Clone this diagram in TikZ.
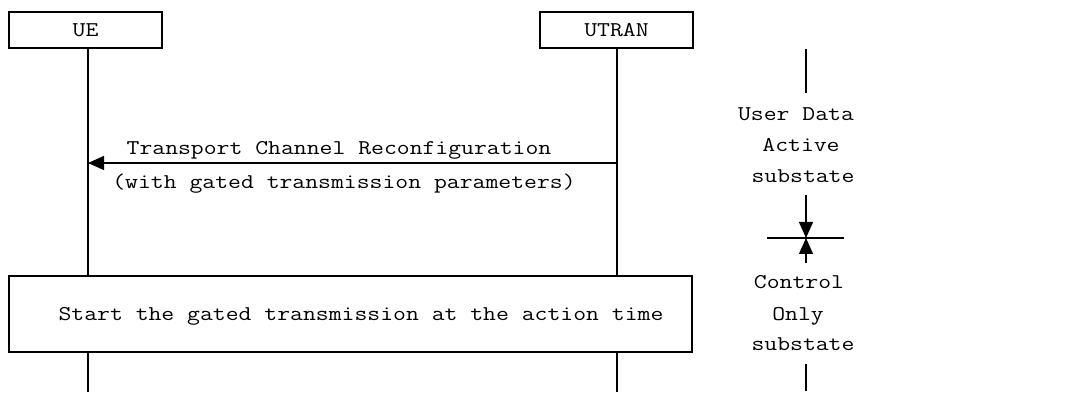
\documentclass[tikz,border=0pt]{standalone}
\usepackage{fontspec}
\setmonofont{Latin Modern Mono}[FakeStretch=1.19]
\usetikzlibrary{arrows.meta}
\begin{document}
\begin{tikzpicture}[x=1pt,y=-1pt,
  ln/.style={line width=1.3pt},
  lbl/.style={font=\ttfamily\fontsize{21}{31}\selectfont, inner sep=0pt, anchor=base},
  entity/.style={draw, line width=1.3pt, minimum width=153pt, minimum height=36pt, inner sep=0pt, font=\ttfamily\fontsize{21}{31}\selectfont},
  tip/.style={-{Triangle[length=16pt,width=14pt]}}]
  \useasboundingbox (0,0) rectangle (1076,403);
  % entities
  \node[entity] (ue) at (85.5,30) {UE};
  \node[entity] (utran) at (616.5,30) {UTRAN};
  \coordinate (ueA) at (88,48);   \coordinate (ueB) at (88,276);
  \coordinate (utA) at (617,48);  \coordinate (utB) at (617,276);
  \coordinate (ueC) at (88,352);  \coordinate (ueD) at (88,392);
  \coordinate (utC) at (617,352); \coordinate (utD) at (617,392);
  \draw[ln] (ueA) -- (ueB);
  \draw[ln] (utA) -- (utB);
  \draw[ln] (ueC) -- (ueD);
  \draw[ln] (utC) -- (utD);
  % message
  \coordinate (m1s) at (617,163);
  \coordinate (m1e) at (88,163);
  \draw[ln,tip] (m1s) -- (m1e);
  \node[lbl] (m1a) at (339,155) {Transport Channel Reconfiguration};
  \node[lbl] (m1b) at (344,189) {(with gated transmission parameters)};
  % action box
  \node[draw, line width=1.3pt, minimum width=683pt, minimum height=76pt, inner sep=0pt] (act) at (350.5,314) {};
  \node[lbl] (acttxt) at (361,320) {Start the gated transmission at the action time};
  % state indicator
  \coordinate (s1) at (806,49);  \coordinate (s2) at (806,93);
  \coordinate (s3) at (806,195); \coordinate (s4) at (806,238);
  \coordinate (s5) at (806,263);
  \coordinate (s6) at (806,364); \coordinate (s7) at (806,391);
  \coordinate (hl) at (767,238); \coordinate (hr) at (844,238);
  \draw[ln] (s1) -- (s2);
  \draw[ln,tip] (s3) -- (s4);
  \draw[ln,tip] (s5) -- (s4);
  \draw[ln] (hl) -- (hr);
  \draw[ln] (s6) -- (s7);
  \node[lbl] (st1a) at (796,121) {User Data};
  \node[lbl] (st1b) at (801,152) {Active};
  \node[lbl] (st1c) at (803,183) {substate};
  \node[lbl] (st2a) at (799,289) {Control};
  \node[lbl] (st2b) at (798,320) {Only};
  \node[lbl] (st2c) at (803,350) {substate};
\end{tikzpicture}
\end{document}
